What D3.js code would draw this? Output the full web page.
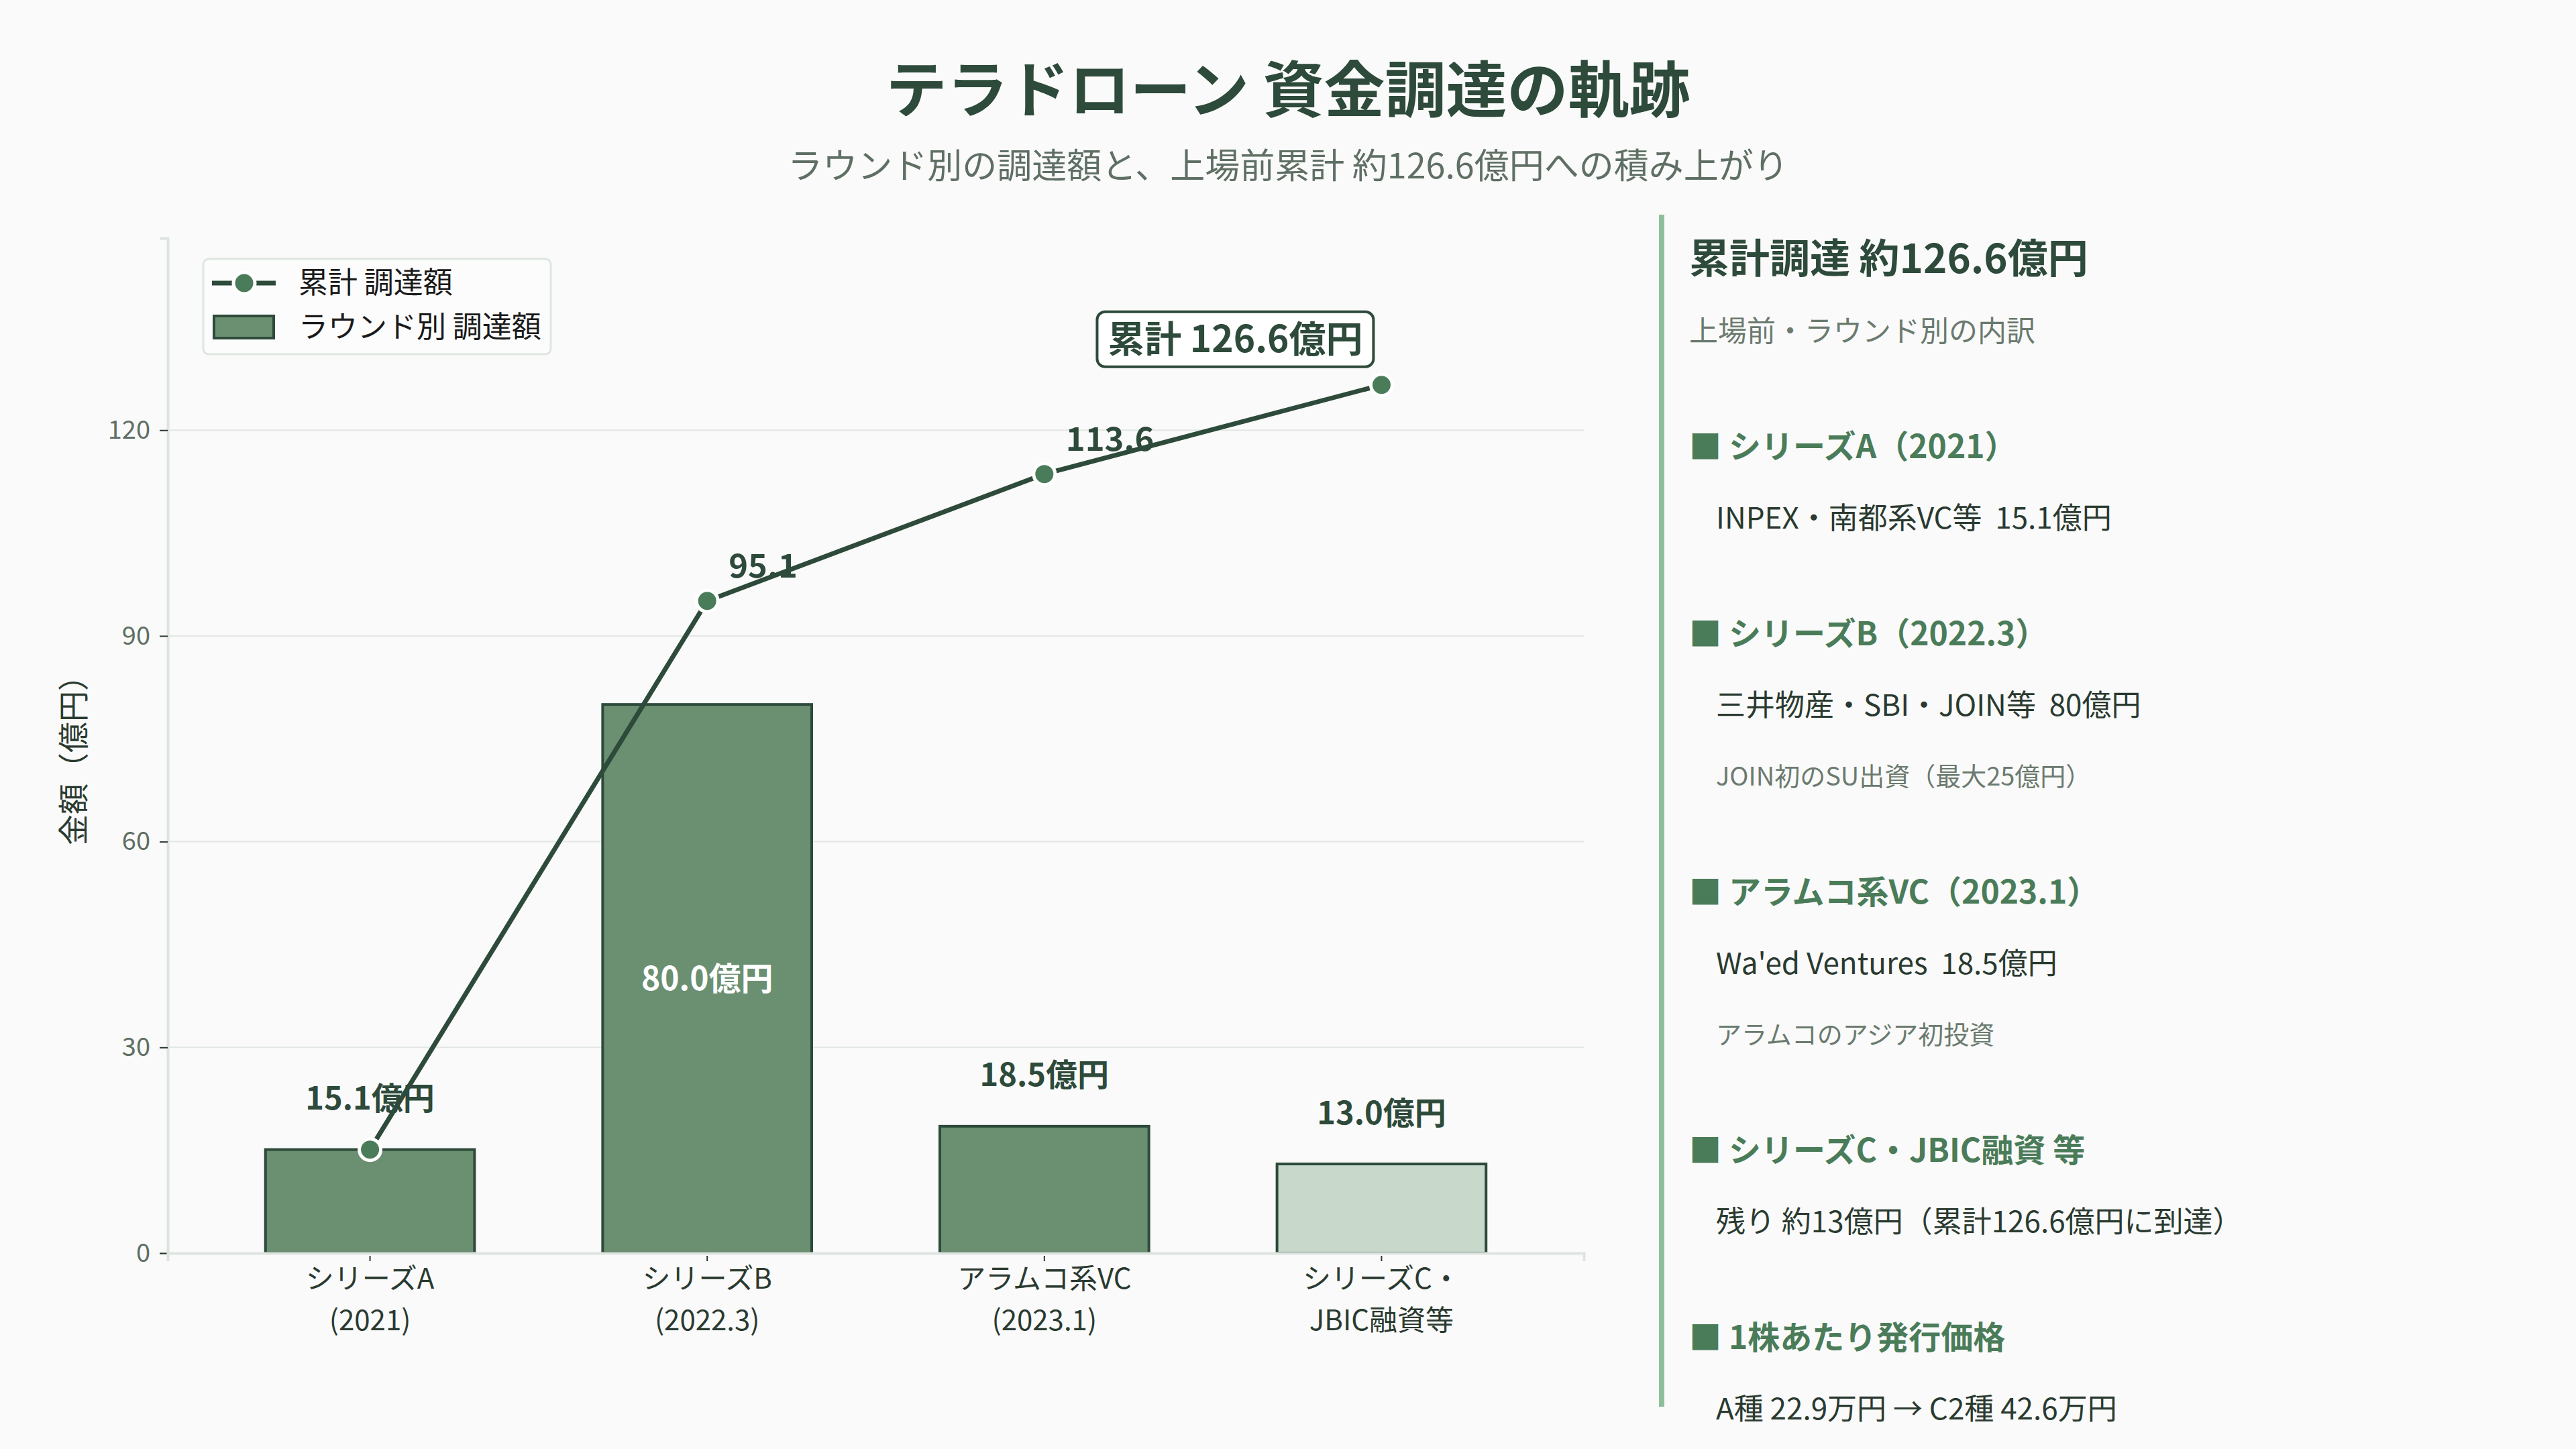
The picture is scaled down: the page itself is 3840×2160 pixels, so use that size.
<!DOCTYPE html>
<html>
<head>
<meta charset="utf-8">
<script src="https://cdn.jsdelivr.net/npm/d3@7"></script>
<style>
  body { margin: 0; background: #fafafa; }
  svg text { font-family: "Noto Sans CJK JP", "Noto Sans", sans-serif; }
</style>
</head>
<body>
<svg id="chart"></svg>
<script>
// rounds (two-line tick labels)
var roundNames = ["シリーズA", "シリーズB", "アラムコ系VC", "シリーズC・"];
var roundDates = ["(2021)", "(2022.3)", "(2023.1)", "JBIC融資等"];
var roundAmounts = [15.1, 80.0, 18.5, 13.0];
var cumulative = [15.1, 95.1, 113.6, 126.6];
var yTicks = [0, 30, 60, 90, 120];

// side panel
var panelHeads = ["■ シリーズA（2021）", "■ シリーズB（2022.3）", "■ アラムコ系VC（2023.1）", "■ シリーズC・JBIC融資 等", "■ 1株あたり発行価格"];
var panelDetails = ["INPEX・南都系VC等  15.1億円", "三井物産・SBI・JOIN等  80億円", "Wa'ed Ventures  18.5億円", "残り 約13億円（累計126.6億円に到達）", "A種 22.9万円 → C2種 42.6万円"];
var panelNotes = ["", "JOIN初のSU出資（最大25億円）", "アラムコのアジア初投資", "", ""];

var W = 3840, H = 2160;
var dark = "#2d4a3a", mid = "#6b8f71", light = "#c8d8cb", green = "#4a7c59";

var svg = d3.select("#chart").attr("width", W).attr("height", H);
svg.append("rect").attr("width", W).attr("height", H).attr("fill", "#fafafa");

// titles
svg.append("text").attr("x", 1920).attr("y", 135).attr("dy", "0.35em")
  .attr("text-anchor", "middle").attr("font-size", 91).attr("font-weight", 700)
  .attr("fill", dark).text("テラドローン 資金調達の軌跡");
svg.append("text").attr("x", 1920).attr("y", 248).attr("dy", "0.35em")
  .attr("text-anchor", "middle").attr("font-size", 52)
  .attr("fill", "#5f6f64").text("ラウンド別の調達額と、上場前累計 約126.6億円への積み上がり");

var plot = {left: 250, right: 2361, top: 355, bottom: 1868};

var x = d3.scaleBand().domain(d3.range(roundNames.length))
  .range([plot.left, plot.right]).paddingInner(0.38).paddingOuter(0.29);
var y = d3.scaleLinear().domain([0, 148]).range([plot.bottom, plot.top]);

// grid
svg.append("g").selectAll("line").data(yTicks.filter(function(d){ return d > 0; }))
  .enter().append("line")
  .attr("x1", plot.left).attr("x2", plot.right)
  .attr("y1", function(d){ return y(d); }).attr("y2", function(d){ return y(d); })
  .attr("stroke", "#e2e7e3").attr("stroke-width", 2);

// y axis
var yAxis = svg.append("g").attr("transform", "translate(" + plot.left + ",0)")
  .call(d3.axisLeft(y).tickValues(yTicks).tickSize(12).tickPadding(14));
yAxis.select(".domain").attr("stroke", "#dde4df").attr("stroke-width", 4);
yAxis.selectAll(".tick line").attr("stroke", "#2a3a30").attr("stroke-width", 2);
yAxis.selectAll(".tick text").attr("font-size", 38).attr("fill", "#5f6f64")
  .attr("font-family", "\"Noto Sans CJK JP\", sans-serif");

svg.append("text").attr("transform", "translate(110,1122) rotate(-90)")
  .attr("text-anchor", "middle").attr("dy", "0.35em").attr("font-size", 46)
  .attr("fill", "#2a3a30").text("金額（億円）");

// bars
svg.append("g").selectAll("rect").data(roundAmounts).enter().append("rect")
  .attr("x", function(d, i){ return x(i); })
  .attr("y", function(d){ return y(d); })
  .attr("width", x.bandwidth())
  .attr("height", function(d){ return y(0) - y(d); })
  .attr("fill", function(d, i){ return i === roundAmounts.length - 1 ? light : mid; })
  .attr("stroke", dark).attr("stroke-width", 4);

// x axis
var xAxis = svg.append("g").attr("transform", "translate(0," + plot.bottom + ")")
  .call(d3.axisBottom(x).tickSize(12).tickFormat(""));
xAxis.select(".domain").attr("stroke", "#dde4df").attr("stroke-width", 4);
xAxis.selectAll(".tick line").attr("stroke", "#2a3a30").attr("stroke-width", 2).attr("y1", 4);
xAxis.selectAll(".tick").each(function(d){
  var t = d3.select(this).append("text").attr("text-anchor", "middle")
    .attr("font-size", 42).attr("fill", "#2a3a30");
  t.append("tspan").attr("x", 0).attr("y", 38).attr("dy", "0.35em").text(roundNames[d]);
  t.append("tspan").attr("x", 0).attr("y", 100).attr("dy", "0.35em").text(roundDates[d]);
});

// bar value labels
svg.append("g").selectAll("text").data(roundAmounts).enter().append("text")
  .attr("x", function(d, i){ return x(i) + x.bandwidth() / 2; })
  .attr("y", function(d){ return d > 50 ? (y(d) + y(0)) / 2 : y(d) - 76; })
  .attr("dy", "0.35em").attr("text-anchor", "middle")
  .attr("font-size", function(d){ return d > 50 ? 48 : 47; }).attr("font-weight", 700)
  .attr("fill", function(d){ return d > 50 ? "#ffffff" : dark; })
  .text(function(d){ return d.toFixed(1) + "億円"; });

// cumulative line
var cx = function(d, i){ return x(i) + x.bandwidth() / 2; };
var line = d3.line().x(cx).y(function(d){ return y(d); });
svg.append("path").datum(cumulative).attr("d", line)
  .attr("fill", "none").attr("stroke", dark).attr("stroke-width", 7);
svg.append("g").selectAll("circle").data(cumulative).enter().append("circle")
  .attr("cx", cx).attr("cy", function(d){ return y(d); }).attr("r", 16)
  .attr("fill", green).attr("stroke", "#ffffff").attr("stroke-width", 5);

// point labels (middle points)
svg.append("g").selectAll("text").data(cumulative).enter()
  .filter(function(d, i){ return i > 0 && i < cumulative.length - 1; })
  .append("text")
  .attr("x", function(d){ return cx(d, cumulative.indexOf(d)) + 32; })
  .attr("y", function(d){ return y(d) - 52; })
  .attr("dy", "0.35em").attr("font-size", 49).attr("font-weight", 700)
  .attr("fill", dark).text(function(d){ return d.toFixed(1); });

// callout on final total
var last = cumulative.length - 1;
var call = svg.append("g")
  .attr("transform", "translate(" + (cx(cumulative[last], last) - 218) + "," + (y(cumulative[last]) - 68) + ")");
call.append("rect").attr("x", -206).attr("y", -41).attr("width", 412).attr("height", 82)
  .attr("rx", 12).attr("fill", "#ffffff").attr("stroke", dark).attr("stroke-width", 4);
call.append("text").attr("text-anchor", "middle").attr("dy", "0.35em")
  .attr("font-size", 55).attr("font-weight", 700).attr("fill", dark)
  .text("累計 " + cumulative[last].toFixed(1) + "億円");

// legend
var lg = svg.append("g");
lg.append("rect").attr("x", 303).attr("y", 386).attr("width", 518).attr("height", 142)
  .attr("rx", 8).attr("fill", "#fcfcfc").attr("stroke", "#dde6df").attr("stroke-width", 3);
lg.append("line").attr("x1", 316).attr("x2", 411).attr("y1", 422).attr("y2", 422)
  .attr("stroke", dark).attr("stroke-width", 7);
lg.append("circle").attr("cx", 364).attr("cy", 422).attr("r", 16)
  .attr("fill", green).attr("stroke", "#ffffff").attr("stroke-width", 5);
lg.append("text").attr("x", 445).attr("y", 422).attr("dy", "0.35em")
  .attr("font-size", 44).attr("fill", "#1a1a1a").text("累計 調達額");
lg.append("rect").attr("x", 319).attr("y", 471).attr("width", 89).attr("height", 33)
  .attr("fill", mid).attr("stroke", dark).attr("stroke-width", 4);
lg.append("text").attr("x", 445).attr("y", 488).attr("dy", "0.35em")
  .attr("font-size", 44).attr("fill", "#1a1a1a").text("ラウンド別 調達額");

// side panel
var px = 2518;
svg.append("line").attr("x1", 2477).attr("x2", 2477).attr("y1", 320).attr("y2", 2097)
  .attr("stroke", "#8fbf9a").attr("stroke-width", 8);
svg.append("text").attr("x", px).attr("y", 386).attr("dy", "0.35em")
  .attr("font-size", 60).attr("font-weight", 700).attr("fill", dark)
  .text("累計調達 約126.6億円");
svg.append("text").attr("x", px).attr("y", 494).attr("dy", "0.35em")
  .attr("font-size", 43).attr("fill", "#6b7a6f").text("上場前・ラウンド別の内訳");

var py = 666;
panelHeads.forEach(function(h, i){
  svg.append("text").attr("x", px).attr("y", py).attr("dy", "0.35em")
    .attr("font-size", 48).attr("font-weight", 700).attr("fill", green).text(h);
  py += 107;
  svg.append("text").attr("x", px + 40).attr("y", py).attr("dy", "0.35em")
    .style("white-space", "pre")
    .attr("font-size", 44).attr("fill", "#2a3a30").text(panelDetails[i]);
  if (panelNotes[i]) {
    py += 106;
    svg.append("text").attr("x", px + 40).attr("y", py).attr("dy", "0.35em")
      .attr("font-size", 38).attr("fill", "#6b7a6f").text(panelNotes[i]);
  }
  py += 172;
});
</script>
</body>
</html>
